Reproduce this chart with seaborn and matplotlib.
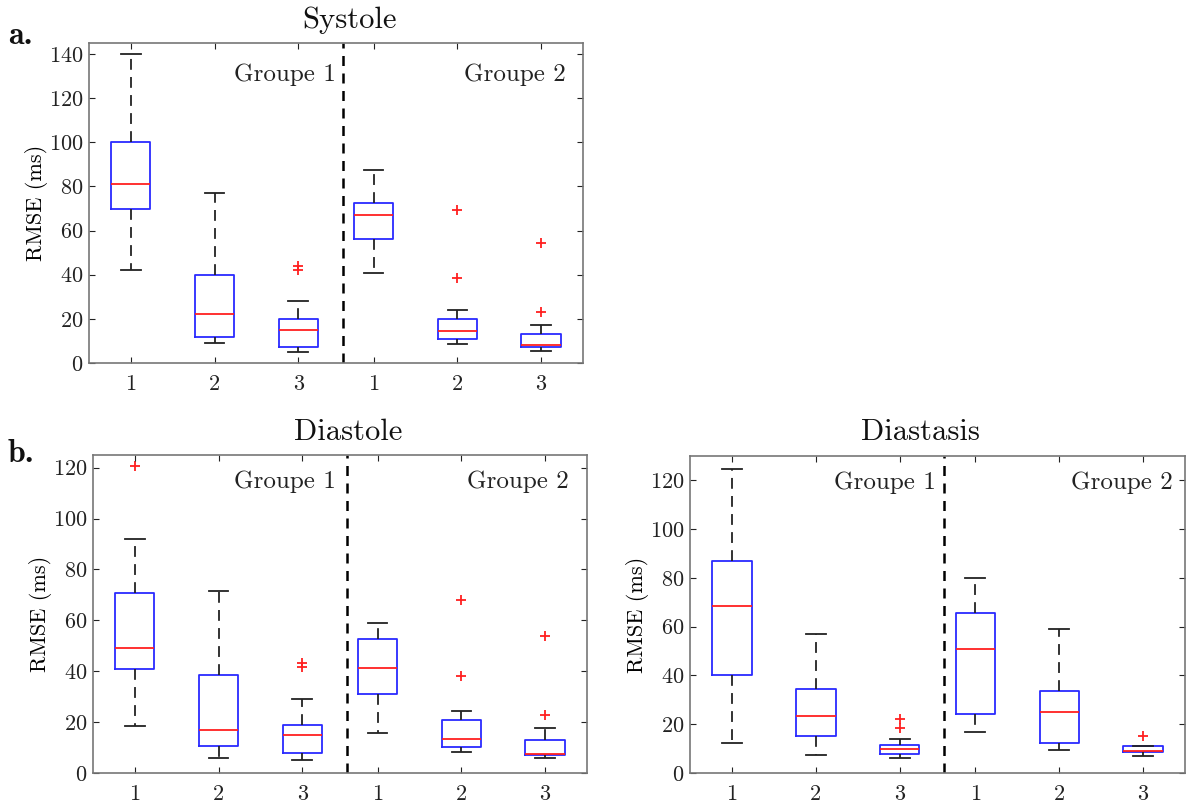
import pandas as pd
import matplotlib
matplotlib.use("Agg")
import matplotlib.pyplot as plt
import matplotlib.transforms as mtransforms
import seaborn as sns

# five-number summaries (low whisker, Q1, median, Q3, high whisker)
# order of boxes: groupe 1 methods 1-3, then groupe 2 methods 1-3
methods = ["1", "2", "3", "1", "2", "3"]

systole_low = [42, 9, 5, 41, 8.5, 5.5]
systole_q1 = [70, 11.7, 7.3, 56.3, 10.9, 7.3]
systole_med = [81, 22, 15, 67, 14.7, 8.3]
systole_q3 = [100, 40, 20, 72.3, 20, 13.3]
systole_high = [140, 77, 28, 87.5, 24.2, 17.4]
systole_out = [[], [], [42, 44], [], [38.6, 69.3], [23, 54.5]]

diastole_low = [18.4, 6, 5.2, 15.7, 8.1, 5.8]
diastole_q1 = [41, 10.5, 7.9, 31.2, 10.1, 7.2]
diastole_med = [49, 17, 14.8, 41.2, 13.4, 7.6]
diastole_q3 = [70.7, 38.7, 18.8, 52.6, 21, 13.1]
diastole_high = [92, 71.5, 28.9, 59, 24.4, 17.7]
diastole_out = [[120.7], [], [41.5, 43.3], [], [38, 68.2], [23, 53.8]]

diastasis_low = [12.5, 7.2, 6.1, 17, 9.3, 7.1]
diastasis_q1 = [40, 15.1, 7.9, 24.1, 12.5, 8.8]
diastasis_med = [68.7, 23.4, 9.9, 50.8, 25.2, 9.1]
diastasis_q3 = [86.8, 34.6, 11.6, 65.8, 33.6, 10.9]
diastasis_high = [124.5, 57.1, 14.1, 80.1, 58.9, 10.9]
diastasis_out = [[], [], [18.4, 22], [], [], [15.2]]

# layout (not data): where the boxes sit, separator line
BOX_POS = [0, 1, 2, 2.9, 3.9, 4.9]
SEP_X = 2.53
XLIM = (-0.5, 5.4)

plt.rcParams["font.family"] = "cmr10"
plt.rcParams["axes.unicode_minus"] = False
plt.rcParams["axes.formatter.use_mathtext"] = True


def long_frame(*cols):
    rows = []
    for i, vals in enumerate(zip(*cols)):
        for v in vals:
            rows.append({"pos": BOX_POS[i], "rmse": v})
    return pd.DataFrame(rows)


def outlier_frame(outs):
    rows = []
    for i, vals in enumerate(outs):
        for v in vals:
            rows.append({"pos": BOX_POS[i], "rmse": v})
    return pd.DataFrame(rows)


def draw_panel(ax, low, q1, med, q3, high, outs, ytop, g1_dx, g2_dx, gy):
    df = long_frame(low, q1, med, q3, high)
    sns.boxplot(
        data=df, x="pos", y="rmse", native_scale=True, whis=(0, 100),
        width=0.52, fill=False, color="blue", linewidth=1.3, showfliers=False,
        boxprops=dict(color="#2a2aff"),
        medianprops=dict(color="#ff2020"),
        whiskerprops=dict(color="#222222", linestyle=(0, (6, 4))),
        capprops=dict(color="#222222"),
        ax=ax,
    )
    od = outlier_frame(outs)
    sns.scatterplot(data=od, x="pos", y="rmse", marker="+", color="#ff2020",
                    s=42, linewidth=1.3, ax=ax, legend=False)
    ax.axvline(SEP_X, color="black", linestyle=(0, (4, 3)), linewidth=1.8)
    ax.set_xlim(*XLIM)
    ax.set_ylim(0, ytop)
    ax.set_yticks(range(0, int(ytop) + 1, 20))
    ax.set_xticks(BOX_POS)
    ax.set_xticklabels(methods)
    ax.set_xlabel("")
    ax.set_ylabel("RMSE (ms)", fontsize=16, labelpad=1)
    ax.tick_params(direction="in", length=4, width=0.8, top=True, right=True,
                   labelsize=16, colors="#222222")
    ax.tick_params(axis="x", pad=8)
    ax.tick_params(axis="y", pad=4)
    for sp in ax.spines.values():
        sp.set_color("#777777")
        sp.set_linewidth(1.2)
    trans = mtransforms.blended_transform_factory(ax.transData, ax.transAxes)
    ax.text(SEP_X - g1_dx, gy, "Groupe 1", ha="right", va="center",
            fontsize=18, transform=trans, color="#222222")
    ax.text(XLIM[1] - g2_dx, gy, "Groupe 2", ha="right", va="center",
            fontsize=18, transform=trans, color="#222222")


fig = plt.figure(figsize=(11.86, 8.07), dpi=100)
ax_sys = fig.add_axes([0.0750, 0.5502, 0.4165, 0.3965])
ax_dia = fig.add_axes([0.0784, 0.0421, 0.4165, 0.3941])
ax_das = fig.add_axes([0.5818, 0.0421, 0.4174, 0.3928])

draw_panel(ax_sys, systole_low, systole_q1, systole_med, systole_q3,
           systole_high, systole_out, 145, 0.08, 0.2, 0.9)
draw_panel(ax_dia, diastole_low, diastole_q1, diastole_med, diastole_q3,
           diastole_high, diastole_out, 125, 0.13, 0.22, 0.916)
draw_panel(ax_das, diastasis_low, diastasis_q1, diastasis_med, diastasis_q3,
           diastasis_high, diastasis_out, 130, 0.1, 0.15, 0.915)

fig.text(350 / 1186, 1 - 20 / 807, "Systole", ha="center", va="center",
         fontsize=22, color="#111111")
fig.text(348 / 1186, 1 - 432 / 807, "Diastole", ha="center", va="center",
         fontsize=22, color="#111111")
fig.text(920 / 1186, 1 - 432 / 807, "Diastasis", ha="center", va="center",
         fontsize=22, color="#111111")
fig.text(8 / 1186, 1 - 36 / 807, "a.", ha="left", va="center",
         fontsize=23, family="cmb10", color="#111111")
fig.text(8 / 1186, 1 - 453 / 807, "b.", ha="left", va="center",
         fontsize=23, family="cmb10", color="#111111")

fig.savefig("out.png", dpi=100)
